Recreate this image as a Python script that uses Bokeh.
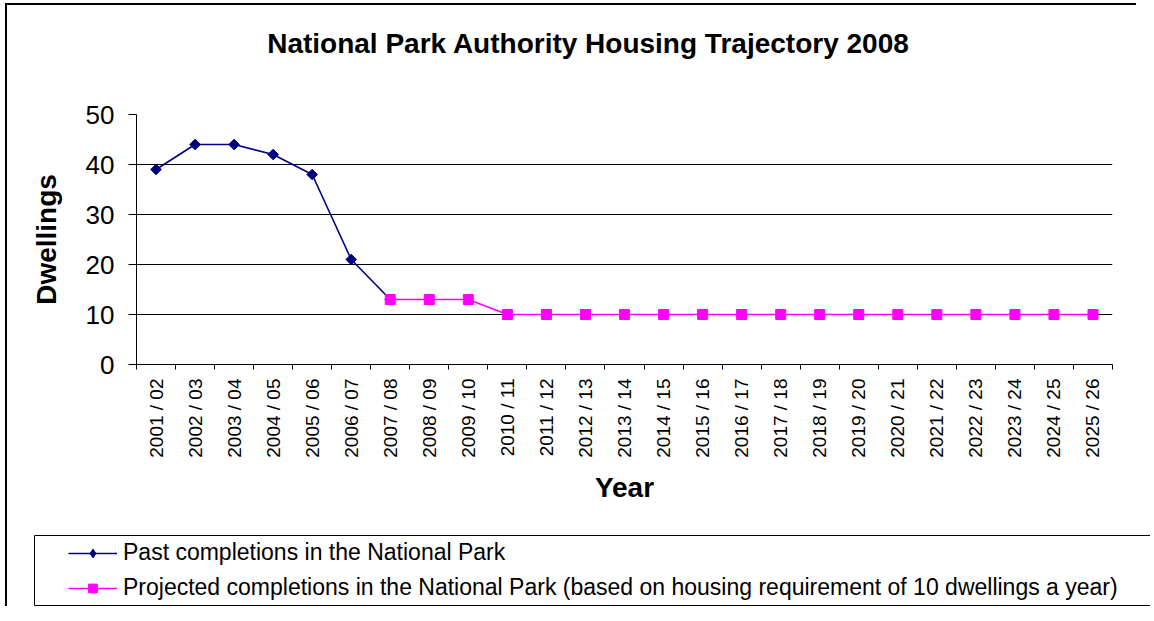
import math
from bokeh.plotting import figure
from bokeh.models import (Range1d, FixedTicker, Legend, LegendItem, Label)
from bokeh.embed import file_html
from bokeh.resources import INLINE

# ---- data ----
years = ["2001 / 02", "2002 / 03", "2003 / 04", "2004 / 05", "2005 / 06", "2006 / 07",
         "2007 / 08", "2008 / 09", "2009 / 10", "2010 / 11", "2011 / 12", "2012 / 13",
         "2013 / 14", "2014 / 15", "2015 / 16", "2016 / 17", "2017 / 18", "2018 / 19",
         "2019 / 20", "2020 / 21", "2021 / 22", "2022 / 23", "2023 / 24", "2024 / 25",
         "2025 / 26"]
past_years = ["2001 / 02", "2002 / 03", "2003 / 04", "2004 / 05", "2005 / 06", "2006 / 07",
              "2007 / 08"]
past_values = [39, 44, 44, 42, 38, 21, 13]
proj_years = years[6:]
proj_values = [13, 13, 13, 10, 10, 10, 10, 10, 10, 10, 10, 10, 10, 10, 10, 10, 10, 10, 10]
y_ticks = [0, 10, 20, 30, 40, 50]

title_text = "National Park Authority Housing Trajectory 2008"
past_label = "Past completions in the National Park"
proj_label = ("Projected completions in the National Park (based on housing "
              "requirement of 10 dwellings a year)")

FONT = "Liberation Sans"
PAST_COLOR = "#000080"
PROJ_COLOR = "#FF00FF"

pos = {y: i + 0.5 for i, y in enumerate(years)}
past_x = [pos[y] for y in past_years]
proj_x = [pos[y] for y in proj_years]

# ---------------- main chart ----------------
p = figure(width=1131, height=517, x_range=Range1d(0, len(years)), y_range=Range1d(0, 50),
           output_backend="svg", toolbar_location=None,
           min_border_left=129, min_border_right=26, min_border_top=109,
           min_border_bottom=158)
p.styles = {"margin-left": "5px", "margin-top": "3px",
            "border-left": "2px solid black", "border-top": "2px solid black"}
p.outline_line_color = None

p.xgrid.visible = False
p.ygrid.grid_line_color = "black"
p.ygrid.grid_line_width = 1
p.ygrid.ticker = FixedTicker(ticks=y_ticks)

p.yaxis.ticker = FixedTicker(ticks=y_ticks)
p.yaxis.axis_line_color = "black"
p.yaxis.major_tick_line_color = "black"
p.yaxis.major_tick_out = 8
p.yaxis.major_tick_in = 0
p.yaxis.minor_tick_line_color = None
p.yaxis.major_label_text_font = FONT
p.yaxis.major_label_text_font_size = "26px"
p.yaxis.major_label_text_color = "black"
p.yaxis.major_label_standoff = 14
p.yaxis.axis_label = "Dwellings"
p.yaxis.axis_label_text_font = FONT
p.yaxis.axis_label_text_font_size = "28px"
p.yaxis.axis_label_text_font_style = "bold"
p.yaxis.axis_label_text_color = "black"
p.yaxis.axis_label_standoff = 21

p.xaxis.ticker = FixedTicker(ticks=[pos[y] for y in years],
                             minor_ticks=list(range(len(years) + 1)))
p.xaxis.major_label_overrides = {pos[y]: y for y in years}
p.xaxis.major_label_orientation = math.pi / 2
p.xaxis.major_tick_line_color = None
p.xaxis.major_tick_out = 0
p.xaxis.major_tick_in = 0
p.xaxis.minor_tick_line_color = "black"
p.xaxis.minor_tick_out = 5
p.xaxis.minor_tick_in = 0
p.xaxis.axis_line_color = "black"
p.xaxis.major_label_text_font = FONT
p.xaxis.major_label_text_font_size = "19px"
p.xaxis.major_label_text_color = "black"
p.xaxis.major_label_standoff = 9
p.xaxis.axis_label = "Year"
p.xaxis.axis_label_text_font = FONT
p.xaxis.axis_label_text_font_size = "28px"
p.xaxis.axis_label_text_font_style = "bold"
p.xaxis.axis_label_text_color = "black"
p.xaxis.axis_label_standoff = 11

p.line(past_x, past_values, line_color=PAST_COLOR, line_width=1.6)
p.scatter(past_x, past_values, marker="square", angle=math.pi / 4, size=7.5,
          fill_color=PAST_COLOR, line_color=PAST_COLOR)
p.line(proj_x, proj_values, line_color=PROJ_COLOR, line_width=1.6)
p.scatter(proj_x, proj_values, marker="square", size=10,
          fill_color=PROJ_COLOR, line_color=PROJ_COLOR)

p.add_layout(Label(x=579, y=36, x_units="canvas", y_units="canvas", text=title_text,
                   text_align="center", text_baseline="middle", text_font=FONT,
                   text_font_size="28px", text_font_style="bold", text_color="black"),
             "above")

# ---------------- legend panel (its frame is the legend box) ----------------
q = figure(width=1145, height=86, x_range=Range1d(0, 1), y_range=Range1d(0, 1),
           x_axis_type=None, y_axis_type=None,
           output_backend="svg", toolbar_location=None,
           min_border_left=27, min_border_right=1, min_border_top=15,
           min_border_bottom=1)
q.styles = {"margin-left": "5px", "border-left": "2px solid black"}
q.grid.visible = False
q.outline_line_color = "black"
q.outline_line_width = 1

# same series styles; the data lie outside this panel's ranges, only the keys show
k1 = q.line(past_x, past_values, line_color=PAST_COLOR, line_width=1.6)
k1m = q.scatter(past_x, past_values, marker="diamond", size=10,
                fill_color=PAST_COLOR, line_color=PAST_COLOR)
k2 = q.line(proj_x, proj_values, line_color=PROJ_COLOR, line_width=1.6)
k2m = q.scatter(proj_x, proj_values, marker="square", size=10,
                fill_color=PROJ_COLOR, line_color=PROJ_COLOR)

legend = Legend(items=[LegendItem(label=past_label, renderers=[k1, k1m]),
                       LegendItem(label=proj_label, renderers=[k2, k2m])],
                location=(34, 4), border_line_color=None, background_fill_alpha=0,
                padding=0, margin=0, spacing=8, label_height=26, glyph_height=22,
                glyph_width=49, label_standoff=6, label_text_font=FONT,
                label_text_font_size="23px", label_text_color="black")
q.add_layout(legend)

open("out.html", "w").write(file_html([p, q], INLINE))
